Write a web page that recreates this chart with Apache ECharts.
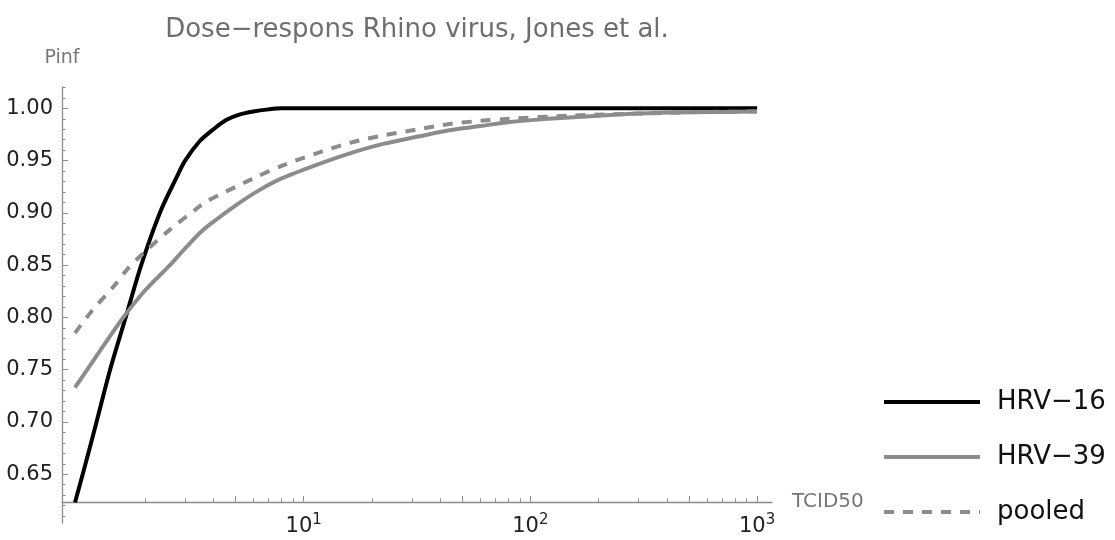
<!DOCTYPE html>
<html>
<head>
<meta charset="utf-8">
<script src="https://cdn.jsdelivr.net/npm/echarts@6/dist/echarts.min.js"></script>
<style>
  html, body { margin: 0; padding: 0; background: #fff; }
  #main { width: 1115px; height: 540px; }
</style>
</head>
<body>
<div id="main"></div>
<script>
// values: [TCID50 dose, Pinf]
var hrv16 = [
    [0.98, 0.623], [1.06, 0.65], [1.22, 0.70], [1.40, 0.75], [1.64, 0.80],
    [1.92, 0.85], [2.32, 0.90], [2.75, 0.934], [3.0, 0.950], [3.49, 0.969],
    [4.0, 0.980], [4.57, 0.989], [5.2, 0.994], [6.0, 0.997], [7.0, 0.999],
    [8.0, 1.0], [10, 1.0], [100, 1.0], [1000, 1.0]
];
var hrv39 = [
    [0.98, 0.733], [1.11, 0.75], [1.3, 0.772], [1.6, 0.80], [2.0, 0.826],
    [2.57, 0.85], [3.0, 0.866], [3.49, 0.881], [3.86, 0.889], [5.0, 0.907],
    [6.4, 0.922], [8.0, 0.933], [11.4, 0.946], [16, 0.957], [22.4, 0.966],
    [32, 0.973], [44, 0.979], [60, 0.983], [81, 0.987], [120, 0.990],
    [200, 0.993], [300, 0.995], [500, 0.9962], [1000, 0.997]
];
var pooled = [
    [0.98, 0.785], [1.16, 0.806], [1.47, 0.831], [1.68, 0.847], [1.93, 0.860],
    [2.57, 0.884], [3.37, 0.904], [3.73, 0.911], [6.0, 0.933], [8.0, 0.945],
    [11.4, 0.957], [16, 0.967], [22.4, 0.974], [32, 0.980], [44, 0.985],
    [60, 0.988], [81, 0.990], [150, 0.993], [300, 0.995], [600, 0.9965],
    [1000, 0.997]
];
var seriesNames = ['HRV\u221216', 'HRV\u221239', 'pooled'];

var xLabelTicks = [10, 100, 1000];
var xMajorTicks = [5, 10, 50, 100, 500, 1000];
var xMinorTicks = [2, 3, 4, 6, 7, 8, 9, 20, 30, 40, 60, 70, 80, 90, 200, 300, 400, 600, 700, 800, 900];
var yLabelTicks = [0.65, 0.70, 0.75, 0.80, 0.85, 0.90, 0.95, 1.00];
var yMinorTicks = [0.61, 0.62, 0.63, 0.64, 0.66, 0.67, 0.68, 0.69, 0.71, 0.72, 0.73, 0.74,
    0.76, 0.77, 0.78, 0.79, 0.81, 0.82, 0.83, 0.84, 0.86, 0.87, 0.88, 0.89,
    0.91, 0.92, 0.93, 0.94, 0.96, 0.97, 0.98, 0.99, 1.01, 1.02];

var axisColor = '#8c8c8c';
var font = 'DejaVu Sans, sans-serif';

var dom = document.getElementById('main');
var myChart = echarts.init(dom);

var xMin = 0.859, xMax = 1164;
var yMin = 0.6034, yMax = 1.0204;

function supLabel(v) {
    var p = Math.round(Math.log(v) / Math.LN10);
    return '{b|10}{s|' + p + '}';
}

var option = {
    animation: false,
    title: {
        text: 'Dose\u2212respons Rhino virus, Jones et al.',
        left: 412,
        textAlign: 'center',
        top: 12,
        textStyle: { color: '#6e6e6e', fontSize: 26, fontWeight: 'normal', fontFamily: font }
    },
    legend: {
        orient: 'vertical',
        left: 877,
        top: 384,
        itemWidth: 96,
        itemHeight: 26,
        itemGap: 29,
        data: seriesNames,
        itemStyle: { opacity: 0 },
        lineStyle: { width: 4 },
        textStyle: { color: '#111', fontSize: 26, fontFamily: font, padding: [0, 0, 0, 12], lineHeight: 26 }
    },
    grid: { left: 62, right: 343, top: 87, bottom: 17, containLabel: false },
    xAxis: [
        {
            type: 'log', logBase: 10, min: xMin, max: xMax, offset: -21, position: 'bottom',
            name: 'TCID50', nameLocation: 'end', nameGap: 20,
            nameTextStyle: { color: '#777', fontSize: 20, fontFamily: font, padding: [0, 0, 12, 0] },
            splitLine: { show: false },
            axisLine: { lineStyle: { color: axisColor, width: 1.3 } },
            axisTick: { inside: true, length: 6, customValues: xMajorTicks, lineStyle: { color: axisColor } },
            axisLabel: {
                customValues: xLabelTicks, margin: 11,
                formatter: supLabel,
                rich: {
                    b: { fontSize: 21, color: '#222', fontFamily: font },
                    s: { fontSize: 15, color: '#222', fontFamily: font, padding: [0, 0, 12, 0] }
                }
            }
        },
        {
            type: 'log', logBase: 10, min: xMin, max: xMax, offset: -21, position: 'bottom',
            splitLine: { show: false },
            axisLine: { show: false },
            axisTick: { inside: true, length: 3.5, customValues: xMinorTicks, lineStyle: { color: axisColor } },
            axisLabel: { show: false }
        }
    ],
    yAxis: [
        {
            type: 'value', min: yMin, max: yMax, position: 'left',
            name: 'Pinf', nameLocation: 'end', nameGap: 19,
            nameTextStyle: { color: '#777', fontSize: 19, fontFamily: font, align: 'center' },
            splitLine: { show: false },
            axisLine: { show: true, lineStyle: { color: axisColor, width: 1.3 } },
            axisTick: { show: true, inside: true, length: 6, customValues: yLabelTicks, lineStyle: { color: axisColor } },
            axisLabel: {
                customValues: yLabelTicks, margin: 9, color: '#222', fontSize: 21, fontFamily: font,
                formatter: function (v) { return v.toFixed(2); }
            }
        },
        {
            type: 'value', min: yMin, max: yMax, position: 'left',
            splitLine: { show: false },
            axisLine: { show: false },
            axisTick: { show: true, inside: true, length: 3.5, customValues: yMinorTicks, lineStyle: { color: axisColor } },
            axisLabel: { show: false }
        }
    ],
    series: [
        {
            name: seriesNames[0], type: 'line', data: hrv16, smooth: 0.3,
            symbol: 'none', xAxisIndex: 0, yAxisIndex: 0,
            lineStyle: { color: '#000', width: 4 }, itemStyle: { color: '#000' }
        },
        {
            name: seriesNames[1], type: 'line', data: hrv39, smooth: 0.3,
            symbol: 'none', xAxisIndex: 0, yAxisIndex: 0,
            lineStyle: { color: '#8c8c8c', width: 4 }, itemStyle: { color: '#8c8c8c' }
        },
        {
            name: seriesNames[2], type: 'line', data: pooled, smooth: 0.3,
            symbol: 'none', xAxisIndex: 0, yAxisIndex: 0,
            lineStyle: { color: '#8c8c8c', width: 4, type: [10, 9] }, itemStyle: { color: '#8c8c8c' }
        }
    ]
};

myChart.setOption(option, true);
</script>
</body>
</html>
